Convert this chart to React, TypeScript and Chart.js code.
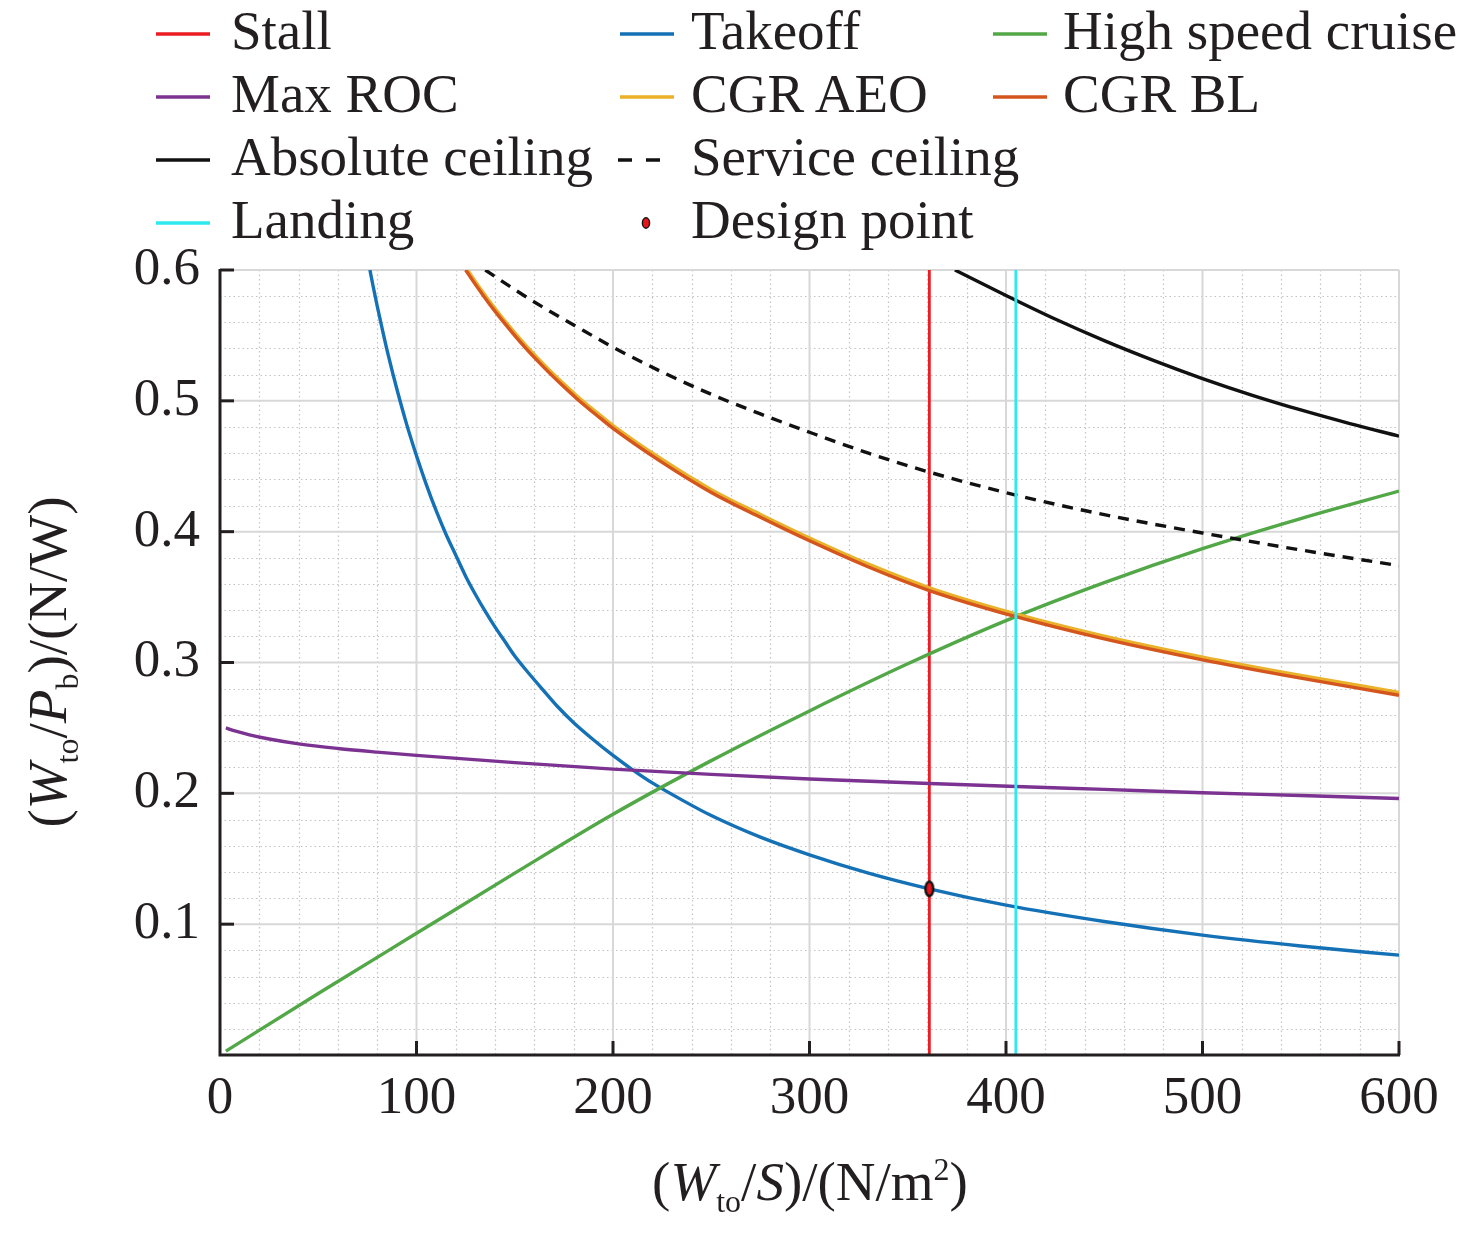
import React, { useEffect, useRef } from 'react';
import { Chart, registerables } from 'chart.js';

Chart.register(...registerables);

// ---------------- data ----------------
const stallX = [361, 361];
const stallY = [0, 0.6];

const takeoffX = [76.3, 78, 80, 83, 86, 90, 95, 100, 105, 110, 115, 120, 125, 130, 135, 140, 145, 150, 157, 165, 172, 180, 190, 200, 210, 220, 235, 250, 275, 300, 330, 361, 400, 450, 500, 550, 600];
const takeoffY = [0.600, 0.587, 0.5725, 0.552, 0.5326, 0.509, 0.482, 0.458, 0.436, 0.416, 0.398, 0.382, 0.366, 0.352, 0.339, 0.327, 0.316, 0.305, 0.292, 0.278, 0.266, 0.254, 0.241, 0.229, 0.218, 0.208, 0.195, 0.183, 0.1665, 0.153, 0.139, 0.127, 0.1145, 0.102, 0.0916, 0.0833, 0.0763];

const cruiseX = [3, 50, 100, 150, 200, 250, 300, 350, 400, 450, 500, 550, 600];
const cruiseY = [0.003, 0.047, 0.093, 0.139, 0.184, 0.225, 0.263, 0.299, 0.332, 0.361, 0.387, 0.410, 0.431];

const rocX = [3, 8, 15, 25, 40, 60, 80, 100, 150, 200, 250, 300, 361, 405, 450, 500, 550, 600];
const rocY = [0.2500, 0.2475, 0.2447, 0.2415, 0.2378, 0.2343, 0.2315, 0.2290, 0.2235, 0.2185, 0.2145, 0.2110, 0.2075, 0.2052, 0.2030, 0.2005, 0.1983, 0.1960];

const cgrX = [125, 131, 137, 143, 150, 156, 162, 168, 175, 181, 187, 193, 200, 225, 250, 275, 300, 330, 361, 405, 450, 500, 550, 600];
const cgrBlY = [0.600, 0.5867, 0.5742, 0.5626, 0.5499, 0.5396, 0.530, 0.5208, 0.5107, 0.5024, 0.4947, 0.4874, 0.479, 0.453, 0.430, 0.411, 0.393, 0.373, 0.355, 0.335, 0.318, 0.302, 0.288, 0.275];
const cgrAeoY = [0.602, 0.5887, 0.5762, 0.5646, 0.5519, 0.5416, 0.532, 0.5228, 0.5127, 0.5044, 0.4967, 0.4894, 0.481, 0.455, 0.432, 0.413, 0.395, 0.375, 0.357, 0.337, 0.320, 0.304, 0.290, 0.277];

const absCeilX = [374, 400, 425, 450, 475, 500, 525, 550, 575, 600];
const absCeilY = [0.600, 0.5805, 0.5625, 0.546, 0.5309, 0.517, 0.5044, 0.493, 0.4826, 0.473];

const servCeilX = [135, 150, 165, 180, 200, 225, 250, 275, 300, 330, 361, 405, 450, 500, 550, 600];
const servCeilY = [0.600, 0.585, 0.571, 0.558, 0.541, 0.522, 0.505, 0.490, 0.476, 0.460, 0.4455, 0.428, 0.413, 0.399, 0.386, 0.374];

const landingX = [405, 405];
const landingY = [0, 0.6];

const designX = [361];
const designY = [0.127];

const seriesNames = ['Stall', 'Takeoff', 'High speed cruise', 'Max ROC', 'CGR AEO', 'CGR BL', 'Absolute ceiling', 'Service ceiling', 'Landing', 'Design point'];
const seriesColors = ['#ec1c24', '#1471b6', '#52a747', '#7b3290', '#eab12a', '#d4561e', '#111111', '#111111', '#2eeaf0', '#e8141c'];

const xTicks = [0, 100, 200, 300, 400, 500, 600];
const yTicks = [0.1, 0.2, 0.3, 0.4, 0.5, 0.6];

// ---------------- layout / style ----------------
const W = 1476;
const H = 1234;
const FONT = "'Liberation Serif', 'Times New Roman', serif";
const TEXT = '#231f20';

const toPts = (xs: number[], ys: number[]) => xs.map((x, i) => ({ x, y: ys[i] }));

function makeEllipse(): HTMLCanvasElement {
  const c = document.createElement('canvas');
  c.width = 14;
  c.height = 21;
  const g = c.getContext('2d')!;
  g.beginPath();
  g.ellipse(7, 10.5, 3.9, 7.2, 0, 0, Math.PI * 2);
  g.fillStyle = '#e8141c';
  g.fill();
  g.lineWidth = 2.4;
  g.strokeStyle = '#111';
  g.stroke();
  return c;
}

const axisPlugin = {
  id: 'axisPlugin',
  beforeDatasetsDraw(chart: any) {
    const { ctx, chartArea: a, scales } = chart;
    const x = scales.x;
    const y = scales.y;
    ctx.save();
    // minor dotted grid
    ctx.strokeStyle = '#c4c4c4';
    ctx.lineWidth = 1.2;
    ctx.setLineDash([1.5, 3]);
    for (let v = 20; v < 600; v += 20) {
      if (v % 100 === 0) continue;
      const px = Math.round(x.getPixelForValue(v)) + 0.5;
      ctx.beginPath();
      ctx.moveTo(px, a.top);
      ctx.lineTo(px, a.bottom);
      ctx.stroke();
    }
    for (let i = 1; i < 30; i++) {
      if (i % 5 === 0) continue;
      const py = Math.round(y.getPixelForValue(i * 0.02)) + 0.5;
      ctx.beginPath();
      ctx.moveTo(a.left, py);
      ctx.lineTo(a.right, py);
      ctx.stroke();
    }
    // major grid
    ctx.setLineDash([]);
    ctx.strokeStyle = '#d8d8d8';
    ctx.lineWidth = 2;
    xTicks.forEach((v) => {
      if (v === 0) return;
      const px = x.getPixelForValue(v);
      ctx.beginPath();
      ctx.moveTo(px, a.top);
      ctx.lineTo(px, a.bottom);
      ctx.stroke();
    });
    yTicks.forEach((v) => {
      const py = y.getPixelForValue(v);
      ctx.beginPath();
      ctx.moveTo(a.left, py);
      ctx.lineTo(a.right, py);
      ctx.stroke();
    });
    ctx.restore();
  },
  afterDatasetsDraw(chart: any) {
    const { ctx, chartArea: a, scales } = chart;
    const x = scales.x;
    const y = scales.y;
    ctx.save();
    ctx.strokeStyle = TEXT;
    ctx.lineWidth = 3;
    ctx.lineCap = 'butt';
    ctx.beginPath();
    ctx.moveTo(a.left, a.top - 1);
    ctx.lineTo(a.left, a.bottom);
    ctx.lineTo(a.right + 1, a.bottom);
    ctx.stroke();
    const TL = 14;
    xTicks.forEach((v) => {
      if (v === 0) return;
      const px = x.getPixelForValue(v);
      ctx.beginPath();
      ctx.moveTo(px, a.bottom);
      ctx.lineTo(px, a.bottom - TL);
      ctx.stroke();
    });
    yTicks.forEach((v) => {
      const py = y.getPixelForValue(v);
      ctx.beginPath();
      ctx.moveTo(a.left, py);
      ctx.lineTo(a.left + TL, py);
      ctx.stroke();
    });
    ctx.restore();
  },
};

// legend layout (col, row) per series
const legendPos: [number, number][] = [[0, 0], [1, 0], [2, 0], [0, 1], [1, 1], [2, 1], [0, 2], [1, 2], [0, 3], [1, 3]];
const legendSampleX = [156, 620, 993];
const legendTextX = [231, 691, 1063];
const legendRowY = [34, 97, 160, 223];

export default function App() {
  const ref = useRef<HTMLCanvasElement | null>(null);

  useEffect(() => {
    if (!ref.current) return;
    const marker = makeEllipse();
    const lineDs = (i: number, xs: number[], ys: number[], extra: any = {}) => ({
      label: seriesNames[i],
      data: toPts(xs, ys),
      showLine: true,
      borderColor: seriesColors[i],
      backgroundColor: seriesColors[i],
      borderWidth: 3.4,
      pointRadius: 0,
      pointHoverRadius: 0,
      cubicInterpolationMode: 'monotone',
      order: 20 - i,
      ...extra,
    });
    const datasets: any[] = [
      lineDs(0, stallX, stallY, { cubicInterpolationMode: 'default', tension: 0, borderWidth: 2.8 }),
      lineDs(1, takeoffX, takeoffY),
      lineDs(2, cruiseX, cruiseY),
      lineDs(3, rocX, rocY),
      lineDs(4, cgrX, cgrAeoY, { borderWidth: 3.8 }),
      lineDs(5, cgrX, cgrBlY, { borderWidth: 3.4 }),
      lineDs(6, absCeilX, absCeilY),
      lineDs(7, servCeilX, servCeilY, { borderDash: [11, 8] }),
      lineDs(8, landingX, landingY, { cubicInterpolationMode: 'default', tension: 0, borderWidth: 2.8 }),
      {
        label: seriesNames[9],
        data: toPts(designX, designY),
        showLine: false,
        pointStyle: marker,
        pointRadius: 8,
        backgroundColor: seriesColors[9],
        borderColor: '#111',
        order: 1,
      },
    ];

    const chart = new Chart(ref.current, {
      type: 'scatter',
      data: { datasets },
      plugins: [axisPlugin],
      options: {
        animation: false,
        responsive: false,
        events: [],
        layout: { padding: { top: 270, right: 77, left: 0, bottom: 0 } },
        plugins: { legend: { display: false }, tooltip: { enabled: false }, title: { display: false } },
        scales: {
          x: {
            type: 'linear',
            min: 0,
            max: 600,
            afterBuildTicks: (s: any) => { s.ticks = xTicks.map((v) => ({ value: v })); },
            afterFit: (s: any) => { s.height = H - 1055; },
            ticks: {
              font: { family: FONT, size: 53 },
              color: TEXT,
              padding: 12,
              maxRotation: 0,
              callback: (v: any) => String(v),
            },
            grid: { display: false, drawTicks: false },
            border: { display: false },
          },
          y: {
            type: 'linear',
            min: 0,
            max: 0.6,
            afterBuildTicks: (s: any) => { s.ticks = yTicks.map((v) => ({ value: v })); },
            afterFit: (s: any) => { s.width = 220; },
            ticks: {
              font: { family: FONT, size: 53 },
              color: TEXT,
              padding: 20,
              callback: (v: any) => Number(v).toFixed(1),
            },
            grid: { display: false, drawTicks: false },
            border: { display: false },
          },
        },
      } as any,
    });
    return () => chart.destroy();
  }, []);

  return (
    <div style={{ position: 'absolute', left: 0, top: 0, width: W, height: H, background: '#fff' }}>
      <canvas ref={ref} width={W} height={H} style={{ display: 'block', width: W, height: H }} />
      <svg width={W} height={H} style={{ position: 'absolute', left: 0, top: 0, pointerEvents: 'none' }}
        fontFamily={FONT} fill={TEXT}>
        {seriesNames.map((name, i) => {
          const [c, r] = legendPos[i];
          const cy = legendRowY[r];
          const sx = legendSampleX[c];
          let sample: any;
          if (i === 9) {
            sample = <ellipse cx={sx + 26} cy={cy} rx={3.6} ry={5.2} fill={seriesColors[i]} stroke="#111" strokeWidth={1.4} />;
          } else if (i === 7) {
            sample = <line x1={sx - 2} x2={sx + 40} y1={cy} y2={cy} stroke={seriesColors[i]} strokeWidth={3.5} strokeDasharray="14 14" />;
          } else {
            sample = <line x1={sx} x2={sx + 54} y1={cy} y2={cy} stroke={seriesColors[i]} strokeWidth={3.5} />;
          }
          return (
            <g key={name}>
              {sample}
              <text x={legendTextX[c]} y={cy + 15} fontSize={55}>{name}</text>
            </g>
          );
        })}
        <text x={810} y={1200} fontSize={55} textAnchor="middle">
          (<tspan fontStyle="italic">W</tspan><tspan fontSize={32} dy={12}>to</tspan><tspan dy={-12}>/</tspan><tspan fontStyle="italic">S</tspan>)/(N/m<tspan fontSize={32} dy={-20}>2</tspan><tspan dy={20}>)</tspan>
        </text>
        <text x={66} y={662} fontSize={55} textAnchor="middle" transform="rotate(-90 66 662)">
          (<tspan fontStyle="italic">W</tspan><tspan fontSize={32} dy={12}>to</tspan><tspan dy={-12}>/</tspan><tspan fontStyle="italic">P</tspan><tspan fontSize={32} dy={12}>b</tspan><tspan dy={-12}>)/(N/W)</tspan>
        </text>
      </svg>
    </div>
  );
}
